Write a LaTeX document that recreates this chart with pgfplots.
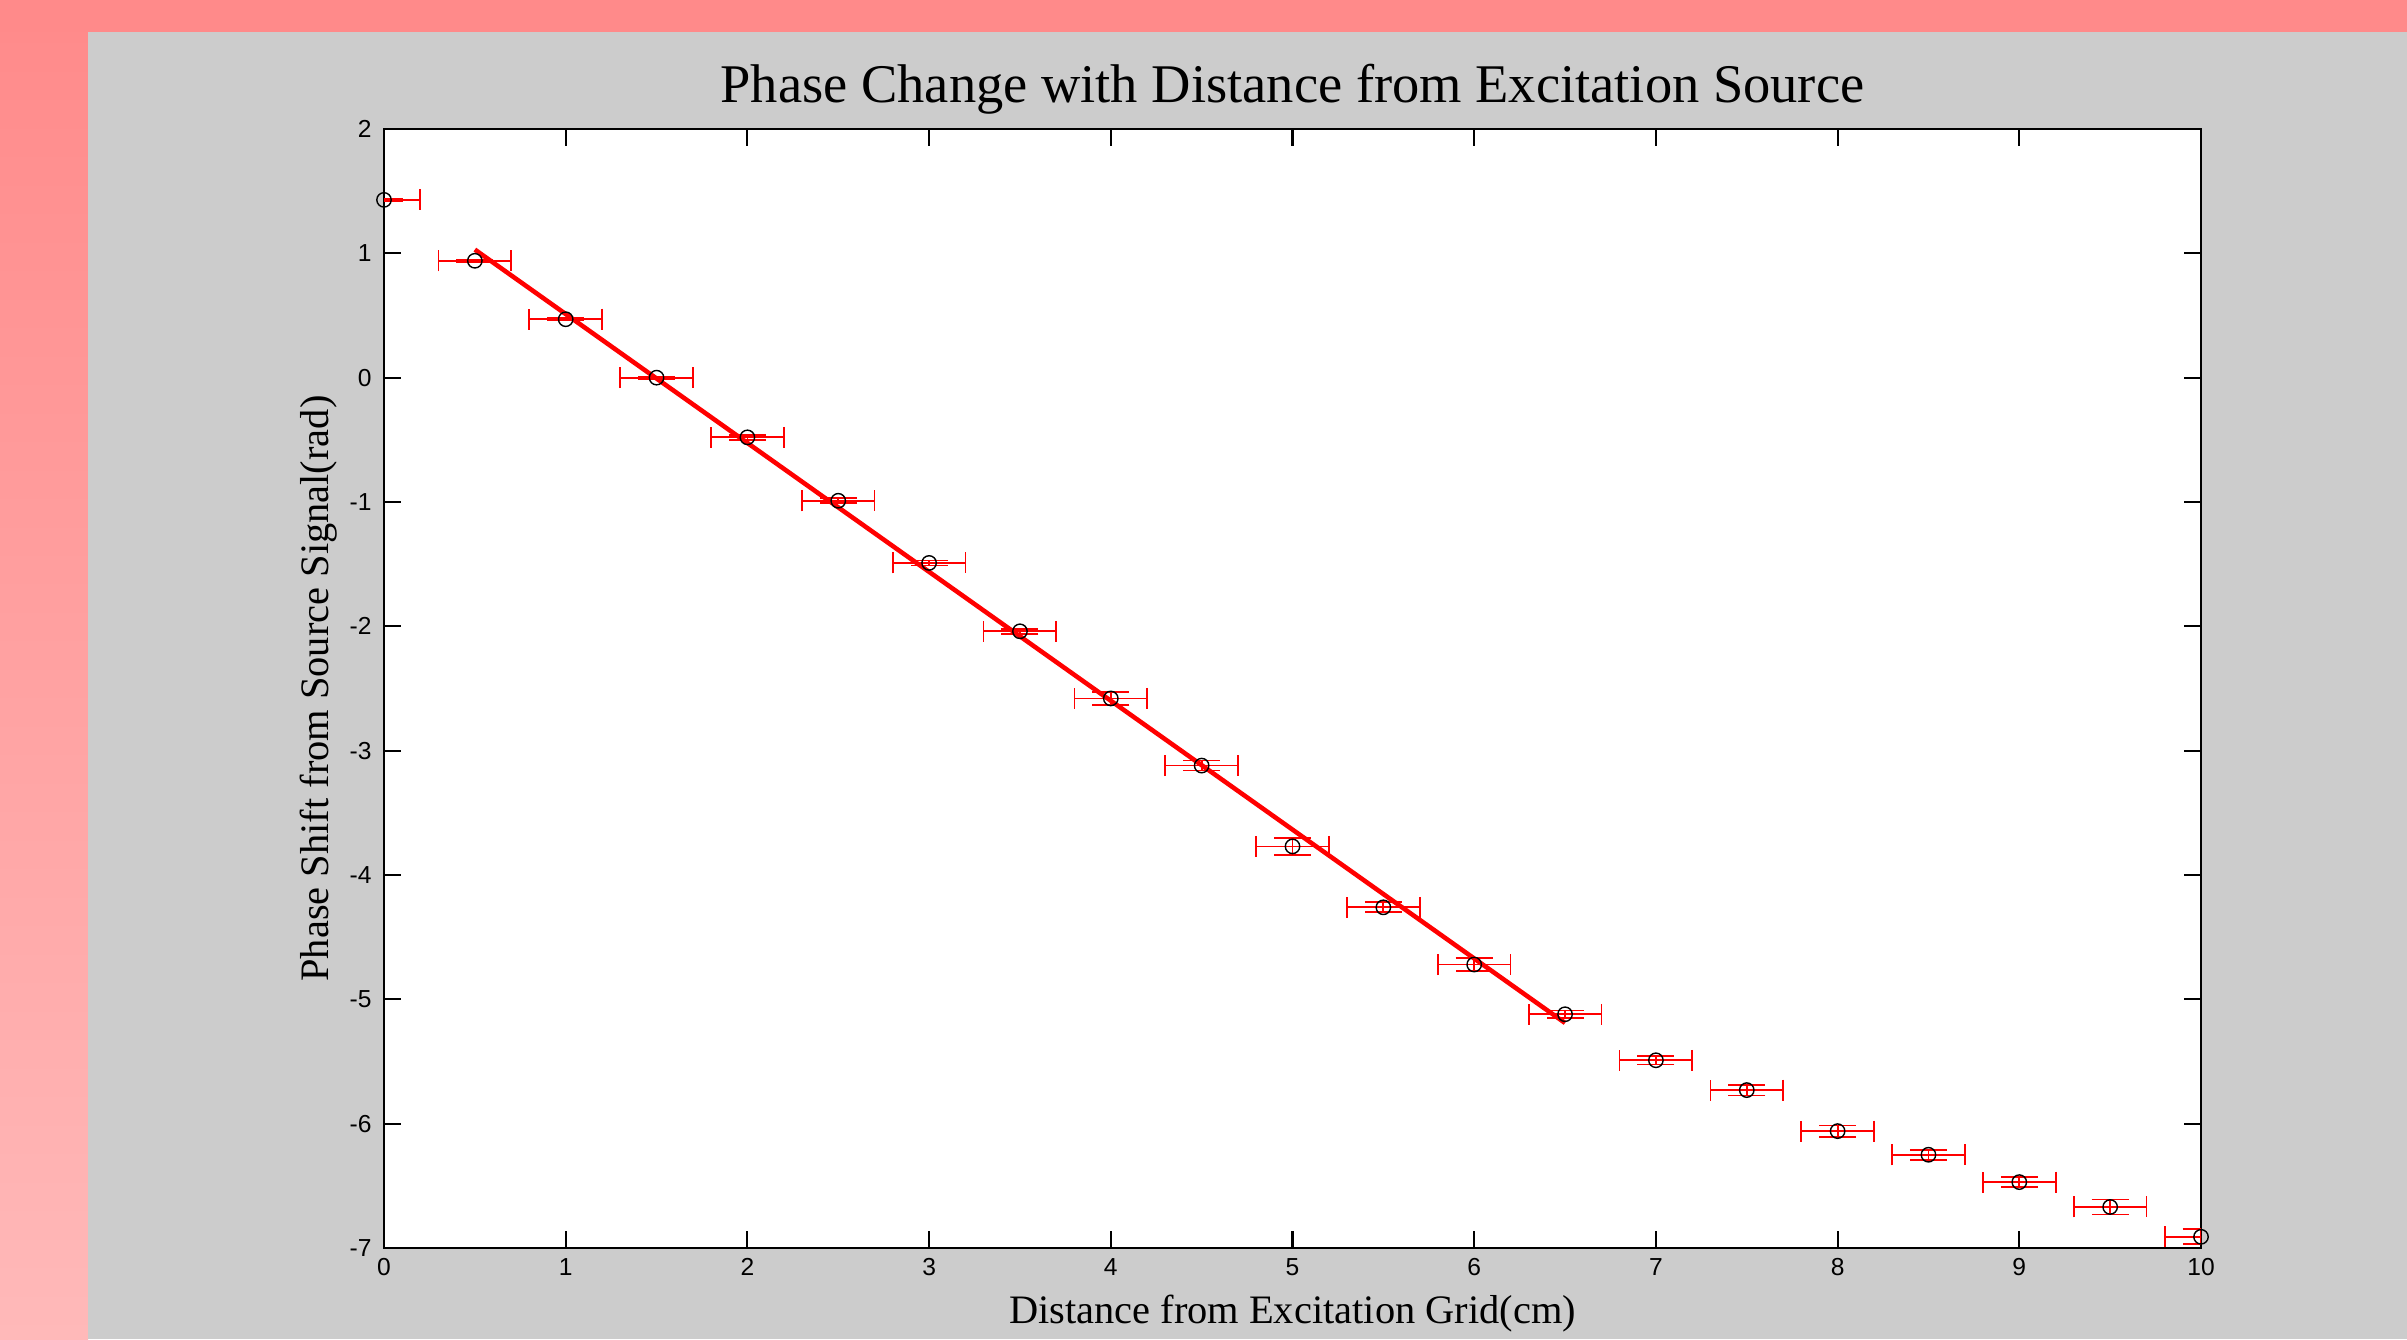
\documentclass[border=0pt]{standalone}
\usepackage{pgfplots}
\pgfplotsset{compat=1.18}
\usepackage{fontspec}
\setmainfont{Liberation Serif}
\newfontfamily\tickfont{Liberation Sans}
\definecolor{pinkA}{RGB}{255,138,138}
\definecolor{pinkB}{RGB}{255,185,185}
\definecolor{figgray}{RGB}{204,204,204}
\pgfplotstableread{
x    y      ex   ey
0    1.43   0.2  0.01
0.5  0.94   0.2  0.01
1    0.47   0.2  0.01
1.5  0.00   0.2  0.01
2    -0.48  0.2  0.02
2.5  -0.99  0.2  0.02
3    -1.49  0.2  0.02
3.5  -2.04  0.2  0.02
4    -2.58  0.2  0.05
4.5  -3.12  0.2  0.04
5    -3.77  0.2  0.067
5.5  -4.26  0.2  0.04
6    -4.72  0.2  0.055
6.5  -5.12  0.2  0.03
7    -5.49  0.2  0.034
7.5  -5.73  0.2  0.044
8    -6.06  0.2  0.046
8.5  -6.25  0.2  0.04
9    -6.47  0.2  0.04
9.5  -6.67  0.2  0.06
10   -6.91  0.2  0.06
}\datatable
\begin{document}
\begin{tikzpicture}
\useasboundingbox (0,0) rectangle (24.07,13.39);
\shade[top color=pinkA, bottom color=pinkB] (0,0) rectangle (0.88,13.39);
\fill[pinkA] (0,13.07) rectangle (24.07,13.39);
\fill[figgray] (0.88,0) rectangle (24.07,13.07);
\begin{axis}[
  at={(3.84cm,0.91cm)}, anchor=south west,
  width=18.17cm, height=11.19cm, scale only axis,
  xmin=0, xmax=10, ymin=-7, ymax=2,
  xtick={0,...,10}, ytick={-7,...,2},
  axis background/.style={fill=white},
  axis line style={black, line width=0.6pt},
  tick style={black, line width=0.6pt},
  tick align=inside, major tick length=0.17cm,
  xtick pos=both, ytick pos=both,
  tick label style={font=\tickfont\fontsize{7}{8}\selectfont},
  /pgf/number format/assume math mode=true,
  xticklabel style={yshift=0.02cm},
  title={Phase Change with Distance from Excitation Source},
  title style={font=\fontsize{15.5}{17}\selectfont, at={(axis description cs:0.5,1.017)}, anchor=center, yshift=0pt},
  xlabel={Distance from Excitation Grid(cm)},
  xlabel style={font=\fontsize{11.5}{13}\selectfont, at={(axis description cs:0.5,-0.0586)}, anchor=center},
  ylabel={Phase Shift from Source Signal(rad)},
  ylabel style={font=\fontsize{11.5}{13}\selectfont, at={(axis description cs:-0.0358,0.5)}, anchor=center},
]
% x error bars
\addplot[draw=none, mark=none, red,
  error bars/.cd, x dir=both, x explicit,
  error bar style={red, line width=0.5pt},
  error mark options={rotate=90, red, line width=0.5pt, mark size=0.105cm}]
  table[x=x, y=y, x error=ex] {\datatable};
% y error bars
\addplot[draw=none, mark=none, red,
  error bars/.cd, y dir=both, y explicit,
  error bar style={red, line width=0.5pt},
  error mark options={rotate=90, red, line width=0.5pt, mark size=0.185cm}]
  table[x=x, y=y, y error=ey] {\datatable};
% data markers
\addplot[only marks, mark=o, mark size=0.072cm, mark options={black, line width=0.4pt}]
  table[x=x, y=y] {\datatable};
% fit line
\addplot[red, line width=1.3pt, mark=none] coordinates {(0.5,1.03) (6.5,-5.19)};
\end{axis}
\end{tikzpicture}
\end{document}
